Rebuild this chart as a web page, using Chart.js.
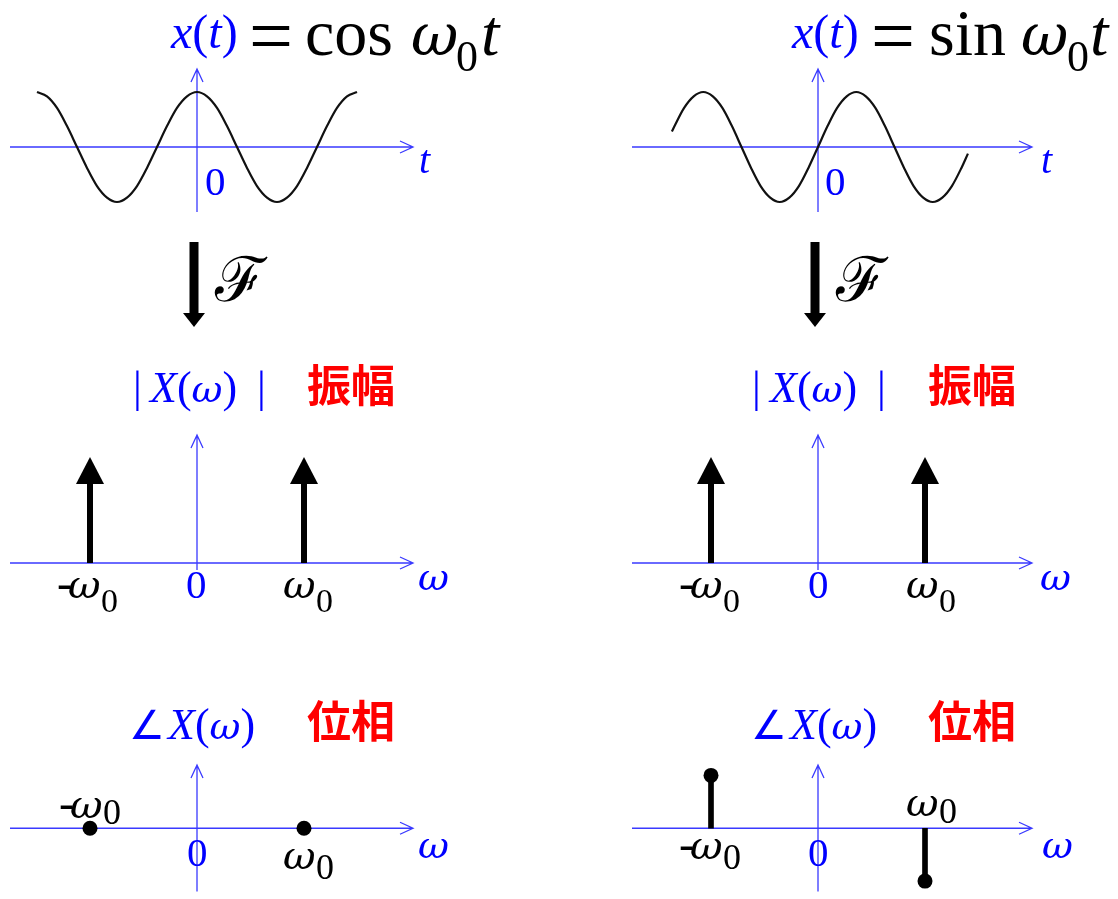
<!DOCTYPE html>
<html>
<head>
<meta charset="utf-8">
<title>cos / sin のフーリエ変換</title>
<script src="https://cdn.jsdelivr.net/npm/chart.js@4/dist/chart.umd.min.js"></script>
<style>
  html, body { margin: 0; padding: 0; background: #ffffff; }
  #stage { position: relative; width: 1118px; height: 899px; overflow: hidden; background: #ffffff; }
  .panel { position: absolute; }
  .panel canvas { display: block; }
</style>
</head>
<body>
<div id="stage"></div>
<script>
// ---- time signals (t in units of pi/ω0) ----
const tCos = [-2, -1.875, -1.75, -1.625, -1.5, -1.375, -1.25, -1.125, -1, -0.875, -0.75, -0.625, -0.5, -0.375, -0.25, -0.125,
              0, 0.125, 0.25, 0.375, 0.5, 0.625, 0.75, 0.875, 1, 1.125, 1.25, 1.375, 1.5, 1.625, 1.75, 1.875, 2];
const xCos = [1, 0.92, 0.71, 0.38, 0, -0.38, -0.71, -0.92, -1, -0.92, -0.71, -0.38, 0, 0.38, 0.71, 0.92,
              1, 0.92, 0.71, 0.38, 0, -0.38, -0.71, -0.92, -1, -0.92, -0.71, -0.38, 0, 0.38, 0.71, 0.92, 1];
const tSin = [-1.91, -1.875, -1.75, -1.625, -1.5, -1.375, -1.25, -1.125, -1, -0.875, -0.75, -0.625, -0.5, -0.375, -0.25, -0.125,
              0, 0.125, 0.25, 0.375, 0.5, 0.625, 0.75, 0.875, 1, 1.125, 1.25, 1.375, 1.5, 1.625, 1.75, 1.875, 1.96];
const xSin = [0.28, 0.38, 0.71, 0.92, 1, 0.92, 0.71, 0.38, 0, -0.38, -0.71, -0.92, -1, -0.92, -0.71, -0.38,
              0, 0.38, 0.71, 0.92, 1, 0.92, 0.71, 0.38, 0, -0.38, -0.71, -0.92, -1, -0.92, -0.71, -0.38, -0.12];

// ---- spectra (ω in units of ω0) ----
const omega = [-1, 1];
const magCos = [3.14, 3.14];      // |X(ω)| = π at ±ω0
const magSin = [3.14, 3.14];
const phaseCos = [0, 0];          // ∠X(ω) in radians
const phaseSin = [1.57, -1.57];

// ---- text ----
const titleCos = 'cos';
const titleSin = 'sin';
const magLabel = '振幅';
const phaseLabel = '位相';

const BLUE = '#0000ff';
const AXIS = '#3a3aff';
const RED = '#ff0000';
const BLACK = '#000000';
const SERIF = '"Liberation Serif", "Times New Roman", serif';
const GREEK = '"DejaVu Serif", serif';
const CJK = '"Noto Sans CJK JP", "Noto Sans CJK SC", sans-serif';
const rm = s => `${s}px ${SERIF}`;
const it = s => `italic ${s}px ${SERIF}`;
const gk = s => `italic ${s}px ${GREEK}`;

// page layout of the two columns and three rows
const COLS = [
  { left: 0,   width: 560, ox: 197, axL: 10,  axR: 413 },
  { left: 560, width: 558, ox: 818, axL: 632, axR: 1032 }
];
const ROWS = [
  { top: 0,   height: 232, oy: 147, axT: 69,  axB: 212 },
  { top: 232, height: 436, oy: 563, axT: 435, axB: 570 },
  { top: 668, height: 231, oy: 832, axT: 765, axB: 899 }
];

function drawRuns(ctx, x0, y0, runs) {
  let cx = x0, dy = 0;
  ctx.textBaseline = 'alphabetic';
  ctx.textAlign = 'left';
  for (const r of runs) {
    ctx.font = r.f;
    ctx.fillStyle = r.c;
    if (r.dy !== undefined) dy = r.dy;
    const x = r.dx !== undefined ? x0 + r.dx : cx;
    ctx.fillText(r.t, x, y0 + dy);
    cx = x + ctx.measureText(r.t).width;
  }
}

// blue coordinate axes with open arrow heads
const axesPlugin = {
  id: 'blueAxes',
  beforeDatasetsDraw(chart) {
    const { ctx, chartArea: a, scales: { x, y } } = chart;
    const ox = x.getPixelForValue(0), oy = y.getPixelForValue(0);
    ctx.save();
    ctx.strokeStyle = AXIS;
    ctx.lineWidth = 1.3;
    ctx.beginPath();
    ctx.moveTo(a.left, oy); ctx.lineTo(a.right, oy);
    ctx.moveTo(a.right - 13, oy - 6); ctx.lineTo(a.right, oy); ctx.lineTo(a.right - 13, oy + 6);
    ctx.moveTo(ox, a.bottom); ctx.lineTo(ox, a.top);
    ctx.moveTo(ox - 6, a.top + 13); ctx.lineTo(ox, a.top); ctx.lineTo(ox + 6, a.top + 13);
    ctx.stroke();
    ctx.restore();
  }
};

// Dirac impulses: thick stem with a filled arrow head ending at the value
const impulsePlugin = {
  id: 'impulses',
  afterDatasetsDraw(chart) {
    const { ctx, scales: { y } } = chart;
    const base = y.getPixelForValue(0);
    chart.data.datasets.forEach((ds, i) => {
      if (!ds.impulse) return;
      const meta = chart.getDatasetMeta(i);
      ctx.save();
      ctx.fillStyle = BLACK;
      meta.data.forEach(el => {
        const headH = 27, headW = 14, stem = 6;
        ctx.fillRect(el.x - stem / 2, el.y + headH - 1, stem, base - el.y - headH + 1);
        ctx.beginPath();
        ctx.moveTo(el.x, el.y);
        ctx.lineTo(el.x + headW, el.y + headH);
        ctx.lineTo(el.x - headW, el.y + headH);
        ctx.closePath();
        ctx.fill();
      });
      ctx.restore();
    });
  }
};

function makeChart(col, row, kx, ky, datasets, labels) {
  const wrap = document.createElement('div');
  wrap.className = 'panel';
  wrap.style.left = col.left + 'px';
  wrap.style.top = row.top + 'px';
  const canvas = document.createElement('canvas');
  canvas.width = col.width;
  canvas.height = row.height;
  wrap.appendChild(canvas);
  document.getElementById('stage').appendChild(wrap);

  const padding = {
    left: col.axL - col.left,
    right: col.left + col.width - col.axR,
    top: row.axT - row.top,
    bottom: row.top + row.height - row.axB
  };
  const textPlugin = {
    id: 'panelText',
    afterDraw(chart) {
      const { ctx, scales: { x, y } } = chart;
      ctx.save();
      labels.forEach(l => {
        const px = x.getPixelForValue(l.at[0]);
        const py = y.getPixelForValue(l.at[1]);
        if (l.draw) l.draw(ctx, px, py);
        else drawRuns(ctx, px, py, l.runs);
      });
      ctx.restore();
    }
  };
  return new Chart(canvas, {
    type: 'scatter',
    data: { datasets },
    options: {
      responsive: false,
      animation: false,
      events: [],
      layout: { padding },
      plugins: { legend: { display: false }, tooltip: { enabled: false }, title: { display: false } },
      scales: {
        x: { type: 'linear', display: false, offset: false,
             min: (col.axL - col.ox) / kx, max: (col.axR - col.ox) / kx },
        y: { type: 'linear', display: false,
             min: (row.oy - row.axB) / ky, max: (row.oy - row.axT) / ky }
      }
    },
    plugins: [axesPlugin, impulsePlugin, textPlugin]
  });
}

const pts = (xs, ys) => xs.map((v, i) => ({ x: v, y: ys[i] }));

function curve(xs, ys) {
  return {
    data: pts(xs, ys), showLine: true, cubicInterpolationMode: 'monotone',
    borderColor: '#111111', borderWidth: 2.2, pointRadius: 0, clip: false
  };
}

function titleRuns(word, pos) {
  return [
    { t: 'x', dx: -26, dy: -99, f: it(48), c: BLUE },
    { t: '(', f: rm(48), c: BLUE },
    { t: 't', f: it(48), c: BLUE },
    { t: ')', f: rm(48), c: BLUE },
    { t: '=', dx: pos[0], dy: -85, f: rm(78), c: BLACK },
    { t: word, dx: pos[1], dy: -92, f: rm(66), c: BLACK },
    { t: 'ω', dx: pos[2], dy: -92, f: gk(58), c: BLACK },
    { t: '0', dx: pos[3], dy: -76, f: rm(44), c: BLACK },
    { t: 't', dx: pos[4], dy: -92, f: it(66), c: BLACK }
  ];
}

function axisText(name, dxName, dyName, dxZero, dyZero, font) {
  return [
    { at: [0, 0], runs: [{ t: name, dx: dxName, dy: dyName, f: font, c: BLUE }] },
    { at: [0, 0], runs: [{ t: '0', dx: dxZero, dy: dyZero, f: rm(41), c: BLUE }] }
  ];
}

// ω0 tick text; negative frequency gets a leading minus
function omegaTick(w, dx, dy, subDy, subSize) {
  const runs = [];
  if (w < 0) runs.push({ t: '-', dx: dx - 11, dy, f: rm(46), c: BLACK });
  runs.push({ t: 'ω', dx, dy, f: gk(40), c: BLACK });
  runs.push({ t: '0', dx: dx + 33, dy: subDy, f: rm(subSize), c: BLACK });
  return { at: [w, 0], runs };
}

const fArrow = {
  at: [0, 0],
  draw(ctx, px, py) {
    const cx = px - 3;
    ctx.fillStyle = BLACK;
    ctx.fillRect(cx - 4.5, py - 321, 9, 72);
    ctx.beginPath();
    ctx.moveTo(cx - 11, py - 250);
    ctx.lineTo(cx + 11, py - 250);
    ctx.lineTo(cx, py - 236);
    ctx.closePath();
    ctx.fill();
    ctx.font = `62px "DejaVu Serif", serif`;
    ctx.fillText('ℱ', px + 18, py - 262);
  }
};

function magHeader(bar1, x, bar2) {
  return [
    { at: [0, 0], runs: [
      { t: '|', dx: bar1, dy: -161, f: rm(44), c: BLUE },
      { t: 'X', dx: x, f: it(44), c: BLUE },
      { t: '(', f: rm(44), c: BLUE },
      { t: 'ω', f: gk(38), c: BLUE },
      { t: ')', f: rm(44), c: BLUE },
      { t: '|', dx: bar2, f: rm(44), c: BLUE }
    ] },
    { at: [0, 0], runs: [{ t: magLabel, dx: 110, dy: -161, f: `bold 44px ${CJK}`, c: RED }] }
  ];
}

function phaseHeader(ang, x) {
  return [
    { at: [0, 0], runs: [
      { t: '∠', dx: ang, dy: -89, f: `40px "DejaVu Sans", sans-serif`, c: BLUE },
      { t: 'X', dx: x, dy: -89, f: it(44), c: BLUE },
      { t: '(', f: rm(44), c: BLUE },
      { t: 'ω', f: gk(38), c: BLUE },
      { t: ')', f: rm(44), c: BLUE }
    ] },
    { at: [0, 0], runs: [{ t: phaseLabel, dx: 110, dy: -90, f: `bold 44px ${CJK}`, c: RED }] }
  ];
}

// ---- row 1: time signals ----
makeChart(COLS[0], ROWS[0], 80, 55, [curve(tCos, xCos)], [
  { at: [0, 0], runs: titleRuns(titleCos, [52, 108, 214, 259, 284]) },
  ...axisText('t', 222, 26, 8, 48, it(40))
]);
makeChart(COLS[1], ROWS[0], 76.5, 55, [curve(tSin, xSin)], [
  { at: [0, 0], runs: titleRuns(titleSin, [53, 111, 203, 249, 272]) },
  ...axisText('t', 223, 26, 7, 48, it(40))
]);

// ---- row 2: magnitude spectra ----
const magSet = vals => ({ data: pts(omega, vals), impulse: true, pointRadius: 0, showLine: false });
makeChart(COLS[0], ROWS[1], 107, 106 / 3.14, [magSet(magCos)], [
  fArrow,
  ...magHeader(-64, -47, 60),
  ...axisText('ω', 221, 27, -11, 35, gk(38)),
  omegaTick(omega[0], -22, 35, 49, 34),
  omegaTick(omega[1], -21, 35, 49, 34)
]);
makeChart(COLS[1], ROWS[1], 107, 106 / 3.14, [magSet(magSin)], [
  fArrow,
  ...magHeader(-66, -48, 59),
  ...axisText('ω', 222, 27, -10, 35, gk(38)),
  omegaTick(omega[0], -21, 35, 49, 34),
  omegaTick(omega[1], -19, 35, 49, 34)
]);

// ---- row 3: phase spectra ----
const stems = vals => ({ type: 'bar', data: pts(omega, vals), backgroundColor: BLACK, borderWidth: 0,
                         barThickness: 5, grouped: false });
const dots = vals => ({ data: pts(omega, vals), pointRadius: 7.5, pointBackgroundColor: BLACK,
                        pointBorderWidth: 0, showLine: false, clip: false });
makeChart(COLS[0], ROWS[2], 107, 56 / 1.57, [stems(phaseCos), dots(phaseCos)], [
  ...phaseHeader(-68, -29),
  ...axisText('ω', 221, 30, -10, 38, gk(38)),
  omegaTick(omega[0], -20, -10, -4, 36),
  omegaTick(omega[1], -21, 41, 51, 36)
]);
makeChart(COLS[1], ROWS[2], 107, 56 / 1.57, [stems(phaseSin), dots(phaseSin)], [
  ...phaseHeader(-67, -28),
  ...axisText('ω', 224, 30, -10, 38, gk(38)),
  omegaTick(omega[0], -21, 31, 41, 36),
  omegaTick(omega[1], -19, -12, -5, 36)
]);
</script>
</body>
</html>
